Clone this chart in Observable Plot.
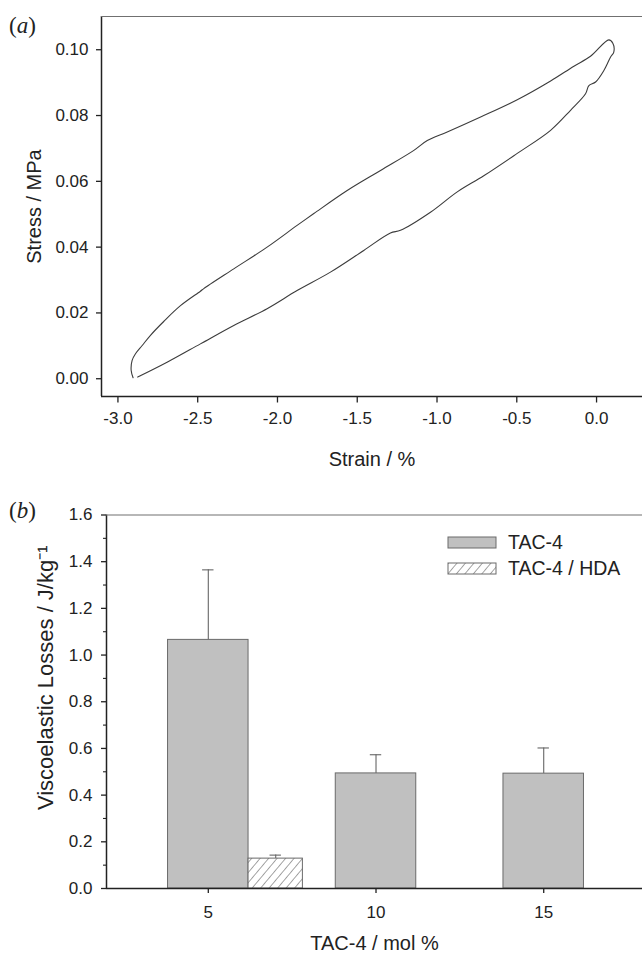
<!DOCTYPE html>
<html><head><meta charset="utf-8">
<script src="https://cdn.jsdelivr.net/npm/d3@7"></script>
<script src="https://cdn.jsdelivr.net/npm/@observablehq/plot@0.6"></script>
<style>
html,body{margin:0;padding:0;background:#fff;}
#wrap{position:relative;width:642px;height:958px;overflow:hidden;background:#fff;}
.panel{position:absolute;left:0;}
.tag{position:absolute;z-index:5;font-family:"Liberation Serif","Times New Roman",serif;font-size:23px;line-height:1;color:#222;}
</style></head><body>
<div id="wrap">
<div id="pa" class="panel" style="top:0px"></div>
<div id="pb" class="panel" style="top:480px"></div>
<div class="tag" style="left:9px;top:14px">(<i>a</i>)</div>
<div class="tag" style="left:9px;top:499px">(<i>b</i>)</div>
</div>
<script>
// ---------- Panel (a): stress–strain hysteresis loop ----------
const strainUp   = [-2.905,-2.917,-2.911,-2.890,-2.848,-2.796,-2.713,-2.608,-2.483,-2.462,-2.274,-2.065,-1.877,-1.772,-1.563,-1.354,-1.145,-1.061,-0.936,-0.720,-0.497,-0.288,-0.142,-0.038,0.077,0.102,0.108];
const stressUp   = [0.0003,0.0025,0.0056,0.0076,0.0101,0.0132,0.0174,0.0222,0.0266,0.0274,0.0334,0.0400,0.0466,0.0502,0.0572,0.0633,0.0694,0.0724,0.0750,0.0797,0.0848,0.0905,0.0950,0.0980,0.1030,0.1020,0.0993];
const strainDown = [0.088,0.046,-0.006,-0.048,-0.069,-0.163,-0.288,-0.497,-0.707,-0.873,-1.041,-1.229,-1.292,-1.459,-1.668,-1.877,-2.065,-2.274,-2.483,-2.692,-2.876];
const stressDown = [0.0978,0.0937,0.0902,0.0891,0.0866,0.0816,0.0755,0.0685,0.0617,0.0568,0.0506,0.0451,0.0443,0.0390,0.0324,0.0268,0.0213,0.0162,0.0106,0.0050,0.0005];
const strainTicks = [-3.0,-2.5,-2.0,-1.5,-1.0,-0.5,0.0];
const stressTicks = [0.00,0.02,0.04,0.06,0.08,0.10];

// ---------- Panel (b): viscoelastic losses ----------
const molPct   = [5,10,15];
const tac4     = [1.065,0.493,0.492];
const tac4Err  = [0.300,0.080,0.110];
const hdaMol   = [5];
const hda      = [0.128];
const hdaErr   = [0.015];
const lossTicks  = [0,0.2,0.4,0.6,0.8,1.0,1.2,1.4,1.6];
const lossMinor  = [0.1,0.3,0.5,0.7,0.9,1.1,1.3,1.5];
const seriesNames = ["TAC-4","TAC-4 / HDA"];

const FONT = '"Liberation Sans", Arial, Helvetica, sans-serif';
const INK = "#222";

// ---- Panel (a) ----
const loop = [
  ...strainUp.map((s,i)=>({strain:s, stress:stressUp[i]})),
  ...strainDown.map((s,i)=>({strain:s, stress:stressDown[i]}))
];
const xDomA = [-3.103, 0.288];
const yDomA = [-0.0054, 0.1101];
const pa = Plot.plot({
  width: 642, height: 480,
  marginLeft: 101, marginRight: 0, marginTop: 16, marginBottom: 84,
  x: {domain: xDomA},
  y: {domain: yDomA},
  style: {fontFamily: FONT, color: INK, background: "transparent", overflow: "visible"},
  marks: [
    Plot.axisY({ticks: stressTicks, tickSize: 5, tickPadding: 8, tickFormat: d => d.toFixed(2), fontSize: 17, label: null, strokeWidth: 1.3}),
    Plot.axisX({ticks: strainTicks, tickSize: 6.5, tickPadding: 9, tickFormat: d => d.toFixed(1), fontSize: 17, label: null, strokeWidth: 1.3}),
    Plot.ruleX([xDomA[0]], {stroke: INK, strokeWidth: 1.5}),
    Plot.ruleY([yDomA[0]], {stroke: INK, strokeWidth: 1.5}),
    Plot.ruleY([yDomA[1]], {stroke: "#707070", strokeWidth: 1.2}),
    Plot.line(loop, {x: "strain", y: "stress", stroke: "#3c3c3c", strokeWidth: 1.1, curve: "catmull-rom"}),
    Plot.text(["Strain / %"], {text: d => d, frameAnchor: "bottom", dy: 69, fontSize: 20, textAnchor: "middle"}),
    Plot.text(["Stress / MPa"], {text: d => d, frameAnchor: "left", dx: -67, rotate: -90, fontSize: 20, textAnchor: "middle"})
  ]
});
document.getElementById("pa").appendChild(pa);

// ---- Panel (b) ----
const tacData = molPct.map((m,i)=>({mol:m, v:tac4[i], e:tac4Err[i]}));
const hdaData = hdaMol.map((m,i)=>({mol:m, v:hda[i], e:hdaErr[i]}));
const xDomB = [1.965, 17.945];
const yDomB = [0, 1.6];
const HALF = 1.2, HDAW = 1.62, CAP = 0.17;
const pb = Plot.plot({
  width: 642, height: 478,
  marginLeft: 106, marginRight: 0, marginTop: 34.5, marginBottom: 70,
  x: {domain: xDomB},
  y: {domain: yDomB},
  style: {fontFamily: FONT, color: INK, background: "transparent", overflow: "visible"},
  marks: [
    Plot.axisY({ticks: lossTicks, tickSize: 5, tickPadding: 9, tickFormat: d => d.toFixed(1), fontSize: 17, label: null, strokeWidth: 1.3}),
    Plot.axisY({ticks: lossMinor, tickSize: 3, tickFormat: () => "", label: null, strokeWidth: 1.1}),
    Plot.axisX({ticks: molPct, tickSize: 5, tickPadding: 12, tickFormat: d => String(d), fontSize: 17, label: null, strokeWidth: 1.3}),
    // error bars (upper only)
    Plot.ruleX(tacData, {x: "mol", y1: "v", y2: d => d.v + d.e, stroke: "#666", strokeWidth: 1.1}),
    Plot.ruleY(tacData, {y: d => d.v + d.e, x1: d => d.mol - CAP, x2: d => d.mol + CAP, stroke: "#666", strokeWidth: 1.1}),
    Plot.ruleX(hdaData, {x: d => d.mol + HALF + HDAW/2, y1: "v", y2: d => d.v + d.e, stroke: "#666", strokeWidth: 1.1}),
    Plot.ruleY(hdaData, {y: d => d.v + d.e, x1: d => d.mol + HALF + HDAW/2 - CAP, x2: d => d.mol + HALF + HDAW/2 + CAP, stroke: "#666", strokeWidth: 1.1}),
    // bars
    Plot.rectY(tacData, {x1: d => d.mol - HALF, x2: d => d.mol + HALF, y: "v", fill: "#c0c0c0", stroke: "#6a6a6a", strokeWidth: 1}),
    Plot.rectY(hdaData, {x1: d => d.mol + HALF, x2: d => d.mol + HALF + HDAW, y: "v", fill: "url(#hatchB)", stroke: "#6a6a6a", strokeWidth: 1}),
    // frame lines
    Plot.ruleX([xDomB[0]], {stroke: INK, strokeWidth: 1.5}),
    Plot.ruleY([yDomB[0]], {stroke: INK, strokeWidth: 1.5}),
    Plot.ruleY([yDomB[1]], {stroke: "#707070", strokeWidth: 1.2}),
    Plot.text(["TAC-4 / mol %"], {text: d => d, frameAnchor: "bottom", dy: 61, fontSize: 20, textAnchor: "middle"}),
    Plot.text(["Viscoelastic Losses / J/kg\u207B\u00B9"], {text: d => d, frameAnchor: "left", dx: -61, dy: -24, rotate: -90, fontSize: 22, textAnchor: "middle"})
  ]
});
document.getElementById("pb").appendChild(pb);

// hatch pattern + legend (panel b)
const svgB = d3.select(pb.tagName.toLowerCase() === "svg" ? pb : pb.querySelector("svg"));
svgB.insert("defs", ":first-child").html(
  '<pattern id="hatchB" patternUnits="userSpaceOnUse" width="6.5" height="6.5" patternTransform="rotate(40)">' +
  '<rect width="6.5" height="6.5" fill="#fff"/><line x1="0" y1="0" x2="0" y2="6.5" stroke="#4a4a4a" stroke-width="1"/></pattern>'
);
const leg = svgB.append("g").attr("font-family", FONT).attr("font-size", 19.5).attr("fill", INK).attr("text-anchor", "start");
const legFills = ["#c0c0c0", "url(#hatchB)"];
seriesNames.forEach((name, i) => {
  const y = 57 + i * 26;
  leg.append("rect").attr("x", 448).attr("y", y).attr("width", 48).attr("height", 11)
     .attr("fill", legFills[i]).attr("stroke", "#6a6a6a").attr("stroke-width", 1);
  leg.append("text").attr("x", 508).attr("y", y + 5.5).attr("dy", "0.35em").attr("text-anchor", "start").text(name);
});
</script>
</body></html>
